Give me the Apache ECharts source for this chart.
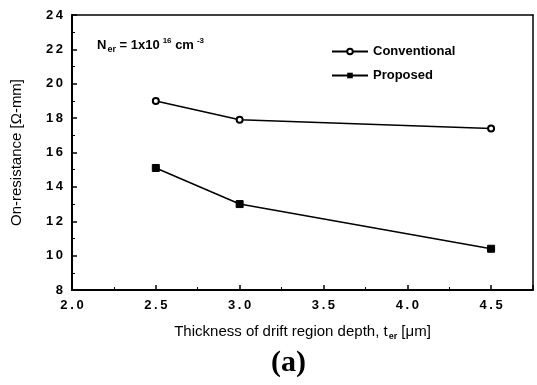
<!DOCTYPE html>
<html><head><meta charset="utf-8">
<script src="https://cdn.jsdelivr.net/npm/echarts@6/dist/echarts.min.js"></script>
<style>html,body{margin:0;padding:0;background:#fff}#c{width:537px;height:385px}</style>
</head><body><div id="c"></div>
<script>
var xValues = [2.5, 3.0, 4.5];
var conventional = [19.0, 17.9, 17.4];
var proposed = [15.1, 13.0, 10.4];
var xTicks = [2.0, 2.5, 3.0, 3.5, 4.0, 4.5];
var yTicks = [8, 10, 12, 14, 16, 18, 20, 22, 24];

var chart = echarts.init(document.getElementById('c'), null, {renderer: 'canvas'});
var font = 'Liberation Sans, Arial, sans-serif';
var sp = '\u2009';
function pairs(xs, ys){ return xs.map(function(x,i){return [x, ys[i]];}); }
var axisCommon = {
  axisLine: {show: true, lineStyle: {color: '#000', width: 2}},
  axisTick: {show: true, inside: true, length: 5, lineStyle: {color: '#000', width: 1.5}},
  minorTick: {show: true, splitNumber: 2, length: 3, lineStyle: {color: '#000', width: 1}},
  splitLine: {show: false}
};
chart.setOption({
  animation: false,
  backgroundColor: '#fff',
  grid: {left: 72, right: 4, top: 15, bottom: 95, containLabel: false},
  xAxis: [
    Object.assign({}, axisCommon, {
      type: 'value', min: 2.0, max: 4.75, interval: 0.5,
      axisLabel: {color: '#000', fontFamily: font, fontSize: 13, fontWeight: 'bold', margin: 9,
        formatter: function(v){ return xTicks.indexOf(+v.toFixed(2)) >= 0 ? v.toFixed(1).split('').join(sp) : ''; }},
      name: '{t|Thickness of drift region depth, t}{s|er}{t| [μm]}',
      nameLocation: 'middle', nameGap: 33,
      nameTextStyle: {rich: {
        t: {fontFamily: font, fontSize: 15, color: '#000'},
        s: {fontFamily: font, fontSize: 9, fontWeight: 'bold', color: '#000', padding: [9, 0, 0, 1]}
      }}
    }),
    {type: 'value', position: 'top', min: 2.0, max: 4.75, interval: 0.5,
      axisLine: {show: true, lineStyle: {color: '#000', width: 1.5}},
      axisTick: {show: false}, axisLabel: {show: false}, splitLine: {show: false}}
  ],
  yAxis: [
    Object.assign({}, axisCommon, {
      type: 'value', min: 8, max: 24, interval: 2,
      axisLabel: {color: '#000', fontFamily: font, fontSize: 13, fontWeight: 'bold', margin: 9,
        formatter: function(v){ return String(v).split('').join(sp); }},
      name: 'On-resistance [Ω-mm]', nameLocation: 'middle', nameGap: 48,
      nameTextStyle: {fontFamily: font, fontSize: 15, color: '#000'}
    }),
    {type: 'value', position: 'right', min: 8, max: 24, interval: 2,
      axisLine: {show: true, lineStyle: {color: '#000', width: 1.5}},
      axisTick: {show: false}, axisLabel: {show: false}, splitLine: {show: false}}
  ],
  legend: {
    left: 326, top: 40, orient: 'vertical', itemWidth: 36, itemHeight: 7, itemGap: 11,
    textStyle: {fontFamily: font, fontSize: 13, fontWeight: 'bold', color: '#000'},
    data: ['Conventional', 'Proposed']
  },
  series: [
    {name: 'Conventional', type: 'line', data: pairs(xValues, conventional),
      symbol: 'emptyCircle', symbolSize: 6,
      lineStyle: {color: '#000', width: 1.5}, itemStyle: {color: '#000', borderColor: '#000', borderWidth: 1.5}},
    {name: 'Proposed', type: 'line', data: pairs(xValues, proposed),
      symbol: 'rect', symbolSize: 7,
      lineStyle: {color: '#000', width: 1.5}, itemStyle: {color: '#000', borderColor: '#000'}}
  ],
  graphic: [
    {type: 'text', left: 97, top: 37, style: {
      text: '{n|N}{s|er}{n| = 1x10}{p|16}{n| cm}{p|-3}',
      rich: {
        n: {fontFamily: font, fontSize: 13, fontWeight: 'bold', fill: '#000'},
        s: {fontFamily: font, fontSize: 9, fontWeight: 'bold', fill: '#000', padding: [9, 0, 0, 1]},
        p: {fontFamily: font, fontSize: 8, fontWeight: 'bold', fill: '#000', padding: [0, 0, 8, 3]}
      }}},
    {type: 'text', left: 271, top: 348, style: {
      text: '(a)', fontFamily: 'Liberation Serif, Times New Roman, serif', fontSize: 30, fontWeight: 'bold', fill: '#000'}}
  ]
});
</script></body></html>
